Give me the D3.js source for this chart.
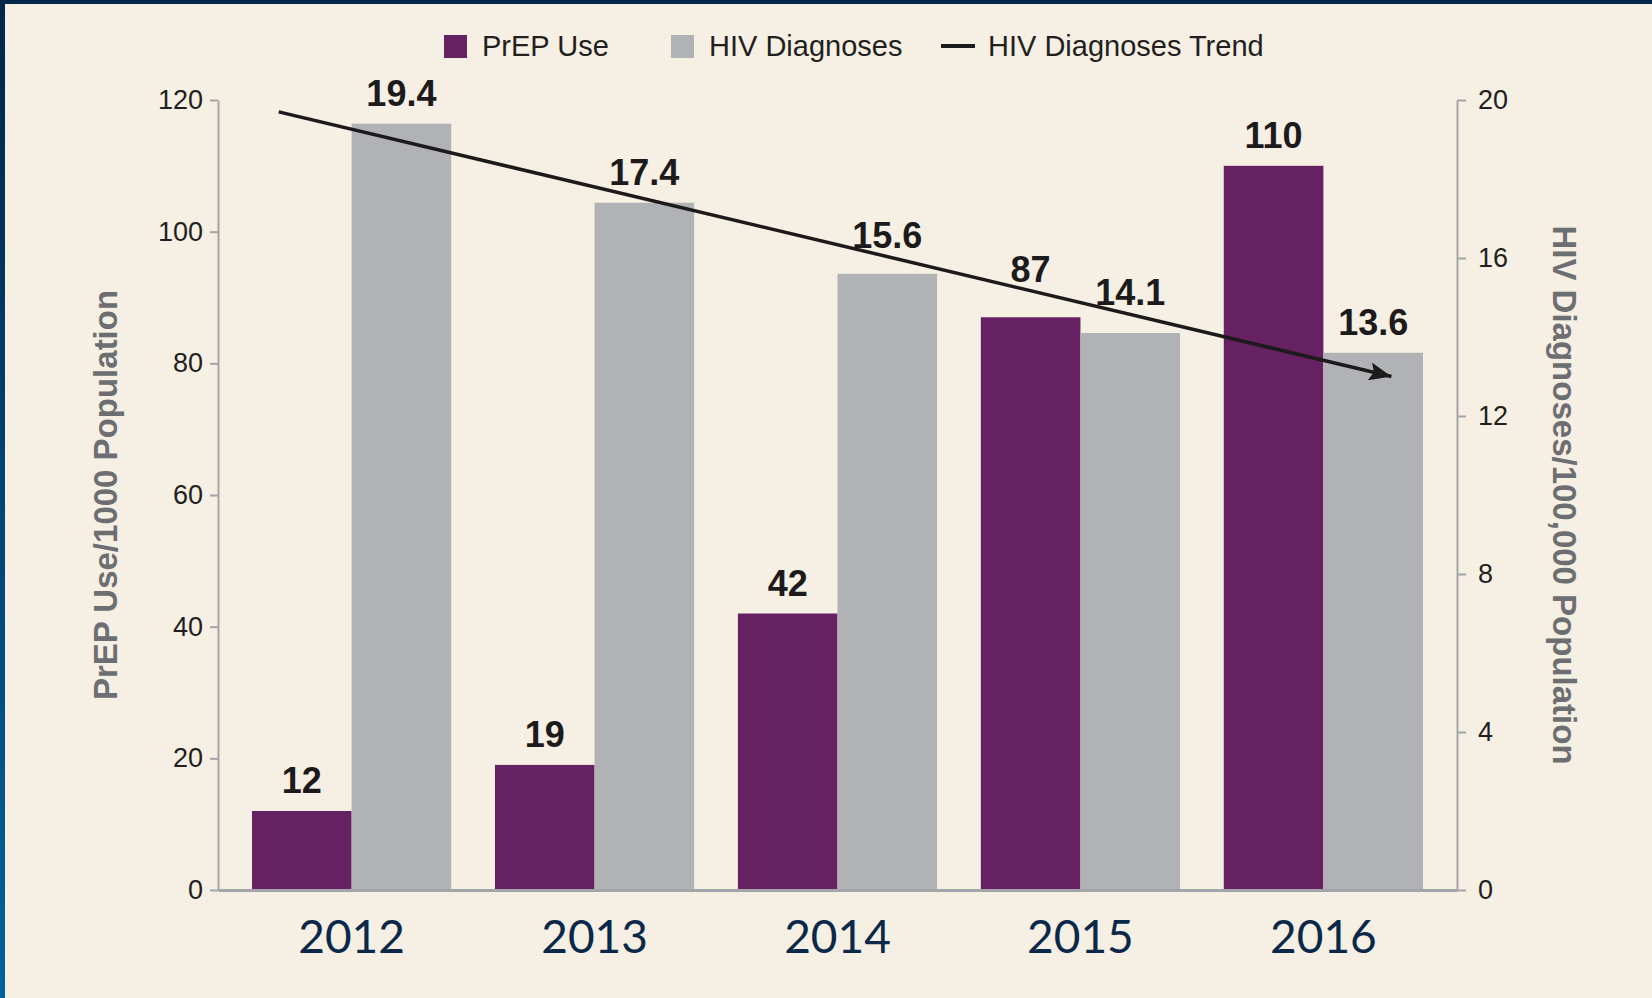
<!DOCTYPE html>
<html>
<head>
<meta charset="utf-8">
<script src="https://cdn.jsdelivr.net/npm/d3@7"></script>
<style>
  html, body { margin: 0; padding: 0; background: #f6efe3; }
  svg { display: block; }
</style>
</head>
<body>
<svg id="chart"></svg>
<script>
const width = 1652;
const height = 998;

// data
const years = ["2012", "2013", "2014", "2015", "2016"];
const prepUse = [12, 19, 42, 87, 110];            // per 1000, left axis
const hivDiagnoses = [19.4, 17.4, 15.6, 14.1, 13.6]; // per 100,000, right axis
const trendYears = [2011.7, 2016.28];
const trendValues = [19.7, 13.0];
const leftTicks = [0, 20, 40, 60, 80, 100, 120];
const rightTicks = [0, 4, 8, 12, 16, 20];

const purple = "#662163";
const grey = "#b1b2b6";
const axisGrey = "#a3a5a8";
const ink = "#1c1a1b";

const margin = { top: 100, right: 195, bottom: 108, left: 218 };
const plotW = width - margin.left - margin.right;

const svg = d3.select("#chart")
  .attr("width", width)
  .attr("height", height);

// frame: dark band on top, blue gradient strip on the left
const defs = svg.append("defs");
const edge = defs.append("linearGradient")
  .attr("id", "edge")
  .attr("x1", "0%").attr("y1", "0%")
  .attr("x2", "0%").attr("y2", "100%");
edge.append("stop").attr("offset", "0%").attr("stop-color", "#00264a");
edge.append("stop").attr("offset", "100%").attr("stop-color", "#00629c");

svg.append("rect").attr("width", width).attr("height", height).attr("fill", "#f6efe3");
svg.append("rect").attr("width", 5).attr("height", height).attr("fill", "url(#edge)");
svg.append("rect").attr("width", width).attr("height", 4).attr("fill", "#00264a");

// scales
const x = d3.scaleBand()
  .domain(years)
  .range([margin.left, margin.left + plotW])
  .paddingInner(0.18)
  .paddingOuter(0.14);

const xSub = d3.scaleBand()
  .domain(["prep", "hiv"])
  .range([0, x.bandwidth()]);

const yLeft = d3.scaleLinear().domain([0, 120]).range([height - margin.bottom, margin.top]);
const yRight = d3.scaleLinear().domain([0, 20]).range([height - margin.bottom, margin.top]);

const xYear = d3.scaleLinear()
  .domain([+years[0], +years[years.length - 1]])
  .range([x(years[0]) + x.bandwidth() / 2, x(years[years.length - 1]) + x.bandwidth() / 2]);

const table = years.map((yr, i) => ({ year: yr, prep: prepUse[i], hiv: hivDiagnoses[i] }));

// trend geometry (also used to keep labels clear of the line)
const trend = trendYears.map((t, i) => [xYear(t), yRight(trendValues[i])]);
const trendYAt = d3.scaleLinear()
  .domain([trend[0][0], trend[1][0]])
  .range([trend[0][1], trend[1][1]]);
const labelY = (cx, barTop) => {
  const base = barTop - 18;
  if (cx < trend[0][0] || cx > trend[1][0]) return base;
  const ty = trendYAt(cx);
  // only lift when the line would run through the label
  if (ty > base - 30 && ty < barTop) return Math.min(base, ty - 9);
  return base;
};

// bars
const groups = svg.append("g")
  .selectAll("g")
  .data(table)
  .join("g")
    .attr("transform", d => `translate(${x(d.year)},0)`);

groups.append("rect")
  .attr("x", xSub("prep"))
  .attr("y", d => yLeft(d.prep))
  .attr("width", xSub.bandwidth())
  .attr("height", d => yLeft(0) - yLeft(d.prep))
  .attr("fill", purple);

groups.append("rect")
  .attr("x", xSub("hiv"))
  .attr("y", d => yRight(d.hiv))
  .attr("width", xSub.bandwidth())
  .attr("height", d => yRight(0) - yRight(d.hiv))
  .attr("fill", grey);

// value labels
const labelFont = "'Liberation Sans', Arial, Helvetica, sans-serif";
const half = xSub.bandwidth() / 2;

groups.append("text")
  .attr("x", xSub("prep") + half)
  .attr("y", d => labelY(x(d.year) + xSub("prep") + half, yLeft(d.prep)))
  .attr("text-anchor", "middle")
  .style("font-family", labelFont)
  .style("font-weight", "bold")
  .style("font-size", "36px")
  .style("fill", ink)
  .text(d => d.prep);

groups.append("text")
  .attr("x", xSub("hiv") + half)
  .attr("y", d => labelY(x(d.year) + xSub("hiv") + half, yRight(d.hiv)))
  .attr("text-anchor", "middle")
  .style("font-family", labelFont)
  .style("font-weight", "bold")
  .style("font-size", "36px")
  .style("fill", ink)
  .text(d => d.hiv.toFixed(1));

// trend line with arrow
defs.append("marker")
  .attr("id", "arrow")
  .attr("markerUnits", "userSpaceOnUse")
  .attr("viewBox", "0 0 22 18")
  .attr("refX", 22).attr("refY", 9)
  .attr("markerWidth", 22).attr("markerHeight", 18)
  .attr("orient", "auto")
  .append("path")
    .attr("d", "M0,0 L22,9 L0,18 L4,9 Z")
    .attr("fill", ink);

svg.append("path")
  .attr("d", d3.line()(trend))
  .attr("fill", "none")
  .attr("stroke", ink)
  .attr("stroke-width", 3.5)
  .attr("marker-end", "url(#arrow)");

// axes
const tickFont = "'Liberation Sans', Arial, Helvetica, sans-serif";

const styleAxis = g => {
  g.select(".domain").attr("stroke", axisGrey).attr("stroke-width", 2);
  g.selectAll(".tick line").attr("stroke", axisGrey).attr("stroke-width", 2);
  g.selectAll(".tick text")
    .style("font-family", tickFont)
    .style("font-size", "27px")
    .style("fill", "#231f20");
};

svg.append("g")
  .attr("transform", `translate(${margin.left},0)`)
  .call(d3.axisLeft(yLeft).tickValues(leftTicks).tickSize(8).tickSizeOuter(0).tickPadding(7))
  .call(styleAxis);

svg.append("g")
  .attr("transform", `translate(${margin.left + plotW},0)`)
  .call(d3.axisRight(yRight).tickValues(rightTicks).tickSize(9).tickSizeOuter(0).tickPadding(12))
  .call(styleAxis);

const xAxis = svg.append("g")
  .attr("transform", `translate(0,${height - margin.bottom})`)
  .call(d3.axisBottom(x).tickSize(0).tickSizeOuter(0));
xAxis.select(".domain").attr("stroke", axisGrey).attr("stroke-width", 3);
xAxis.selectAll(".tick text")
  .attr("y", 63)
  .attr("dy", 0)
  .style("font-family", "'Gill Sans', 'Gill Sans MT', Lato, 'Open Sans', sans-serif")
  .style("font-size", "46px")
  .style("fill", "#0a2849");

// axis titles
const titleStyle = sel => sel
  .attr("text-anchor", "middle")
  .style("font-family", labelFont)
  .style("font-weight", "bold")
  .style("font-size", "33px")
  .style("fill", "#6d6e71");

svg.append("text")
  .attr("transform", `translate(117,${(yLeft(0) + yLeft(120)) / 2}) rotate(-90)`)
  .call(titleStyle)
  .text("PrEP Use/1000 Population");

svg.append("text")
  .attr("transform", `translate(1553,${(yRight(0) + yRight(20)) / 2}) rotate(90)`)
  .call(titleStyle)
  .text("HIV Diagnoses/100,000 Population");

// legend
const legendItems = [
  { label: "PrEP Use", type: "box", color: purple, x: 444 },
  { label: "HIV Diagnoses", type: "box", color: grey, x: 671 },
  { label: "HIV Diagnoses Trend", type: "line", color: ink, x: 941 }
];

const legend = svg.append("g")
  .selectAll("g")
  .data(legendItems)
  .join("g")
    .attr("transform", d => `translate(${d.x},46)`);

legend.filter(d => d.type === "box")
  .append("rect")
    .attr("x", 0).attr("y", -11)
    .attr("width", 23).attr("height", 23)
    .attr("fill", d => d.color);

legend.filter(d => d.type === "line")
  .append("line")
    .attr("x1", 0).attr("x2", 34)
    .attr("stroke", d => d.color)
    .attr("stroke-width", 4);

legend.append("text")
  .attr("x", d => d.type === "box" ? 38 : 47)
  .attr("y", 10)
  .style("font-family", tickFont)
  .style("font-size", "29px")
  .style("fill", "#231f20")
  .text(d => d.label);
</script>
</body>
</html>
